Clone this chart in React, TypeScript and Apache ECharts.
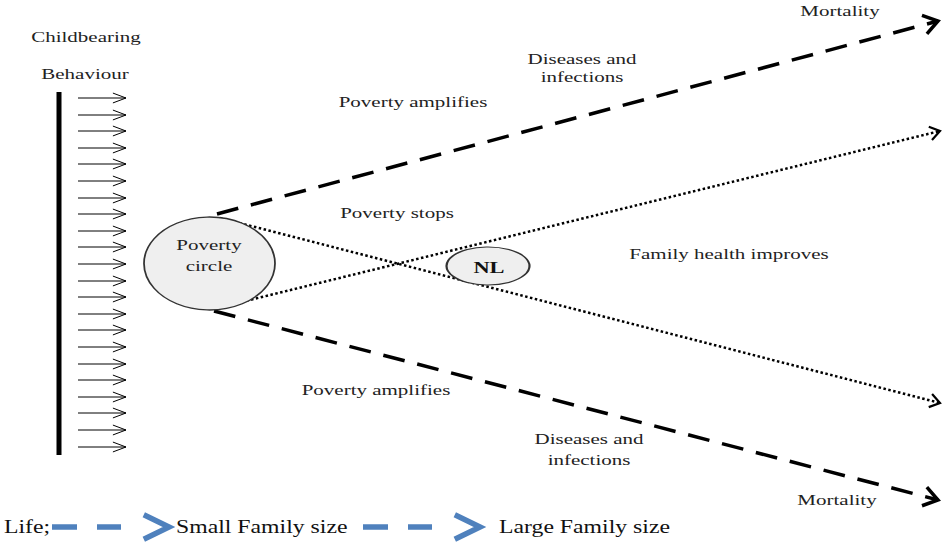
import React, { useEffect, useRef } from "react";
import * as echarts from "echarts";

const W = 944;
const H = 542;

// Rows of the small "behaviour" arrows (y positions)
const arrowRows = [98, 115, 131, 148, 164, 181, 198, 214, 231, 247, 264, 281, 297, 314, 330, 347, 364, 380, 397, 413, 430, 447];

// Main paths: [start, tip]
const dashedUp = [[217, 214], [938, 21]];
const dashedDown = [[214, 311], [938, 500]];
const dottedDown = [[220, 218], [940, 403]];
const dottedUp = [[217, 308], [940, 131]];

// Bubbles
const bubbleCenters = [[209.5, 263.5], [488, 266]];

// Text
const diagramLabels = [
  "Childbearing", "Behaviour", "Poverty", "circle", "Mortality",
  "Diseases and", "infections", "Poverty amplifies", "Poverty stops",
  "Family health improves", "Poverty amplifies", "Diseases and",
  "infections", "Mortality",
];
const bubbleLabel = "NL";
const legendLabels = ["Life;", "Small Family size", "Large Family size"];

// Layout (positions only)
const labelPos = [
  [86, 37], [85, 74], [209, 245], [209, 266], [840, 11],
  [582, 59], [582, 77], [413, 102], [397, 213],
  [729, 254], [376, 390], [589, 439],
  [589, 460], [837, 500],
];
const legendPos = [4, 176, 499];
const legendArrows = [[52, 169], [363, 480]];

function chevron(from: number[], tip: number[], len: number, ang: number) {
  const dx = from[0] - tip[0];
  const dy = from[1] - tip[1];
  const d = Math.hypot(dx, dy);
  const ux = dx / d;
  const uy = dy / d;
  const rot = (a: number) => [
    tip[0] + len * (ux * Math.cos(a) - uy * Math.sin(a)),
    tip[1] + len * (ux * Math.sin(a) + uy * Math.cos(a)),
  ];
  return [rot(ang), tip, rot(-ang)];
}

export default function App() {
  const ref = useRef<HTMLDivElement>(null);
  useEffect(() => {
    if (!ref.current) return;
    const chart = echarts.init(ref.current, null, { renderer: "svg", width: W, height: H });
    const serif = "'Liberation Serif', 'Times New Roman', serif";
    const black = "#000";
    const blue = "#4f81bd";

    const lineSeries = (data: any[], style: any, z = 2) => ({
      type: "lines",
      coordinateSystem: "cartesian2d",
      polyline: true,
      silent: true,
      z,
      data: data.map((c) => ({ coords: c })),
      lineStyle: { opacity: 1, curveness: 0, cap: "butt", join: "miter", ...style },
      effect: { show: false },
    });

    const texts: any[] = diagramLabels.map((t, i) => ({
      type: "text",
      x: labelPos[i][0],
      y: labelPos[i][1],
      scaleX: 1.4,
      z: 100,
      style: {
        text: t,
        font: `15px ${serif}`,
        fill: "#222",
        align: "center",
        verticalAlign: "middle",
      },
    }));
    texts.push({
      type: "text",
      x: 489,
      y: 268,
      scaleX: 1.4,
      z: 100,
      style: { text: bubbleLabel, font: `bold 16px ${serif}`, fill: "#111", align: "center", verticalAlign: "middle" },
    });
    legendLabels.forEach((t, i) => {
      texts.push({
        type: "text",
        x: legendPos[i],
        y: 527,
        scaleX: 1.32,
        z: 100,
        style: { text: t, font: `18px ${serif}`, fill: "#111", align: "left", verticalAlign: "middle" },
      });
    });

    const legendStems = legendArrows.map(([a, b]) => [[a, 527], [b - 48, 527]]);
    const legendHeads = legendArrows.map(([a, b]) => chevron([a, 527], [b, 527], 28, 0.45));

    chart.setOption({
      animation: false,
      grid: { left: 0, right: 0, top: 0, bottom: 0 },
      xAxis: { type: "value", min: 0, max: W, show: false },
      yAxis: { type: "value", min: 0, max: H, inverse: true, show: false },
      series: [
        lineSeries([[[59, 92], [59, 455]]], { color: black, width: 5 }),
        lineSeries(arrowRows.map((y) => [[78, y], [126, y]]), { color: black, width: 1 }),
        lineSeries(arrowRows.map((y) => chevron([78, y], [126, y], 14, 0.36)), { color: black, width: 1 }),
        lineSeries([dashedUp, dashedDown], { color: black, width: 3.5, type: [22, 13] }),
        lineSeries(
          [chevron(dashedUp[0], dashedUp[1], 17, 0.6), chevron(dashedDown[0], dashedDown[1], 17, 0.6)],
          { color: black, width: 3.5 }
        ),
        lineSeries([dottedDown, dottedUp], { color: black, width: 2.5, type: [2.5, 2.5] }),
        lineSeries(
          [chevron(dottedDown[0], dottedDown[1], 12, 0.6), chevron(dottedUp[0], dottedUp[1], 12, 0.6)],
          { color: black, width: 2.2 }
        ),
        lineSeries(legendStems, { color: blue, width: 5.5, type: [25, 20] }),
        lineSeries(legendHeads, { color: blue, width: 5.5 }),
        {
          type: "scatter",
          silent: true,
          z: 5,
          symbol: "circle",
          data: [
            { value: bubbleCenters[0], symbolSize: [131, 93] },
            { value: bubbleCenters[1], symbolSize: [83, 38] },
          ],
          itemStyle: { color: "#efefef", borderColor: "#333", borderWidth: 1.5, opacity: 1 },
        },
      ],
      graphic: texts,
    });
    return () => chart.dispose();
  }, []);
  return (
    <div
      ref={ref}
      style={{ position: "fixed", left: 0, top: 0, width: W, height: H, background: "#fff" }}
    />
  );
}
